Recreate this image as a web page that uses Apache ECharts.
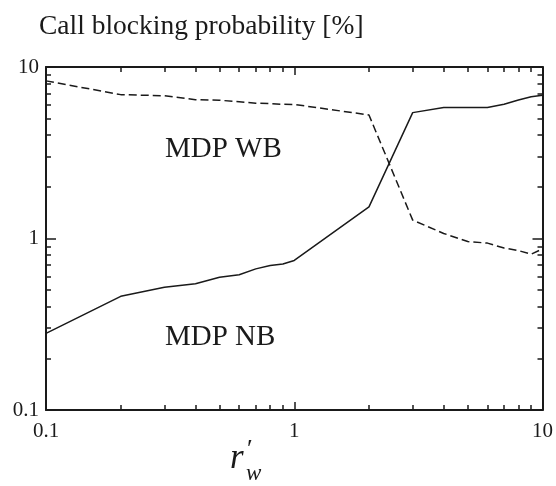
<!DOCTYPE html>
<html>
<head>
<meta charset="utf-8">
<script src="https://cdn.jsdelivr.net/npm/echarts@6/dist/echarts.min.js"></script>
<style>
html,body{margin:0;padding:0;background:#fff;}
#chart{width:556px;height:486px;}
</style>
</head>
<body>
<div id="chart"></div>
<script>
// r'_w values
var xValues = [0.1, 0.2, 0.3, 0.4, 0.5, 0.6, 0.7, 0.8, 0.9, 1, 2, 3, 4, 5, 6, 7, 8, 9, 10];
// MDP WB (dashed)
var wbValues = [8.3, 6.9, 6.8, 6.45, 6.4, 6.27, 6.15, 6.12, 6.06, 6.05, 5.25, 1.28, 1.07, 0.96, 0.94, 0.88, 0.85, 0.81, 0.87];
// MDP NB (solid)
var nbValues = [0.28, 0.46, 0.52, 0.545, 0.595, 0.615, 0.665, 0.695, 0.71, 0.745, 1.53, 5.42, 5.8, 5.8, 5.8, 6.06, 6.42, 6.71, 6.85];
var majorTicks = [0.1, 1, 10];
var minorTicks = [0.2, 0.3, 0.4, 0.5, 0.6, 0.7, 0.8, 0.9, 2, 3, 4, 5, 6, 7, 8, 9];
var tickLabels = ['0.1', '1', '10'];
var titleText = 'Call blocking probability [%]';
var seriesNames = ['MDP WB', 'MDP NB'];

var FONT = '"Liberation Serif", "DejaVu Serif", serif';
var INK = '#1a1a1a';

function pairs(ys) { return xValues.map(function (x, i) { return [x, ys[i]]; }); }

function makeAxis(dim, pos, ticks, len, withLabel, withLine) {
  return {
    type: 'log', logBase: 10, min: 0.1, max: 10, position: pos,
    axisLine: { show: withLine, lineStyle: { color: INK, width: 2 } },
    axisTick: { show: true, inside: true, length: len, customValues: ticks, lineStyle: { color: INK, width: 1.5 } },
    axisLabel: withLabel ? {
      show: true, customValues: majorTicks, margin: dim === 'x' ? 11 : 7,
      fontFamily: FONT, fontSize: 21, color: INK,
      formatter: function (v) { var i = majorTicks.indexOf(+v); return i >= 0 ? tickLabels[i] : ''; }
    } : { show: false },
    splitLine: { show: false },
    minorTick: { show: false }
  };
}

var chart = echarts.init(document.getElementById('chart'), null, { renderer: 'canvas' });
chart.setOption({
  backgroundColor: '#fff',
  animation: false,
  grid: { left: 46, right: 13, top: 67, bottom: 76 },
  xAxis: [
    makeAxis('x', 'bottom', majorTicks, 8, true, true),
    makeAxis('x', 'top', majorTicks, 8, false, true),
    makeAxis('x', 'bottom', minorTicks, 5, false, false),
    makeAxis('x', 'top', minorTicks, 5, false, false)
  ],
  yAxis: [
    makeAxis('y', 'left', majorTicks, 10, true, true),
    makeAxis('y', 'right', majorTicks, 10, false, true),
    makeAxis('y', 'left', minorTicks, 5, false, false),
    makeAxis('y', 'right', minorTicks, 5, false, false)
  ],
  series: [
    { name: seriesNames[0], type: 'line', data: pairs(wbValues), showSymbol: false, symbol: 'none',
      lineStyle: { color: INK, width: 1.5, type: [8, 4] } },
    { name: seriesNames[1], type: 'line', data: pairs(nbValues), showSymbol: false, symbol: 'none',
      lineStyle: { color: INK, width: 1.5 } }
  ],
  graphic: [
    { type: 'text', left: 39, top: 13, style: { text: titleText, font: '27.5px ' + FONT, fill: INK } },
    { type: 'text', left: 165, top: 135, style: { text: seriesNames[0], font: '29px ' + FONT, fill: INK } },
    { type: 'text', left: 165, top: 323, style: { text: seriesNames[1], font: '29px ' + FONT, fill: INK } },
    { type: 'text', left: 230, top: 441, style: { text: 'r', font: 'italic 35px ' + FONT, fill: INK } },
    { type: 'text', left: 247, top: 437, style: { text: '\u2032', font: '26px ' + FONT, fill: INK } },
    { type: 'text', left: 246, top: 462, style: { text: 'w', font: 'italic 23px ' + FONT, fill: INK } }
  ]
});
</script>
</body>
</html>
